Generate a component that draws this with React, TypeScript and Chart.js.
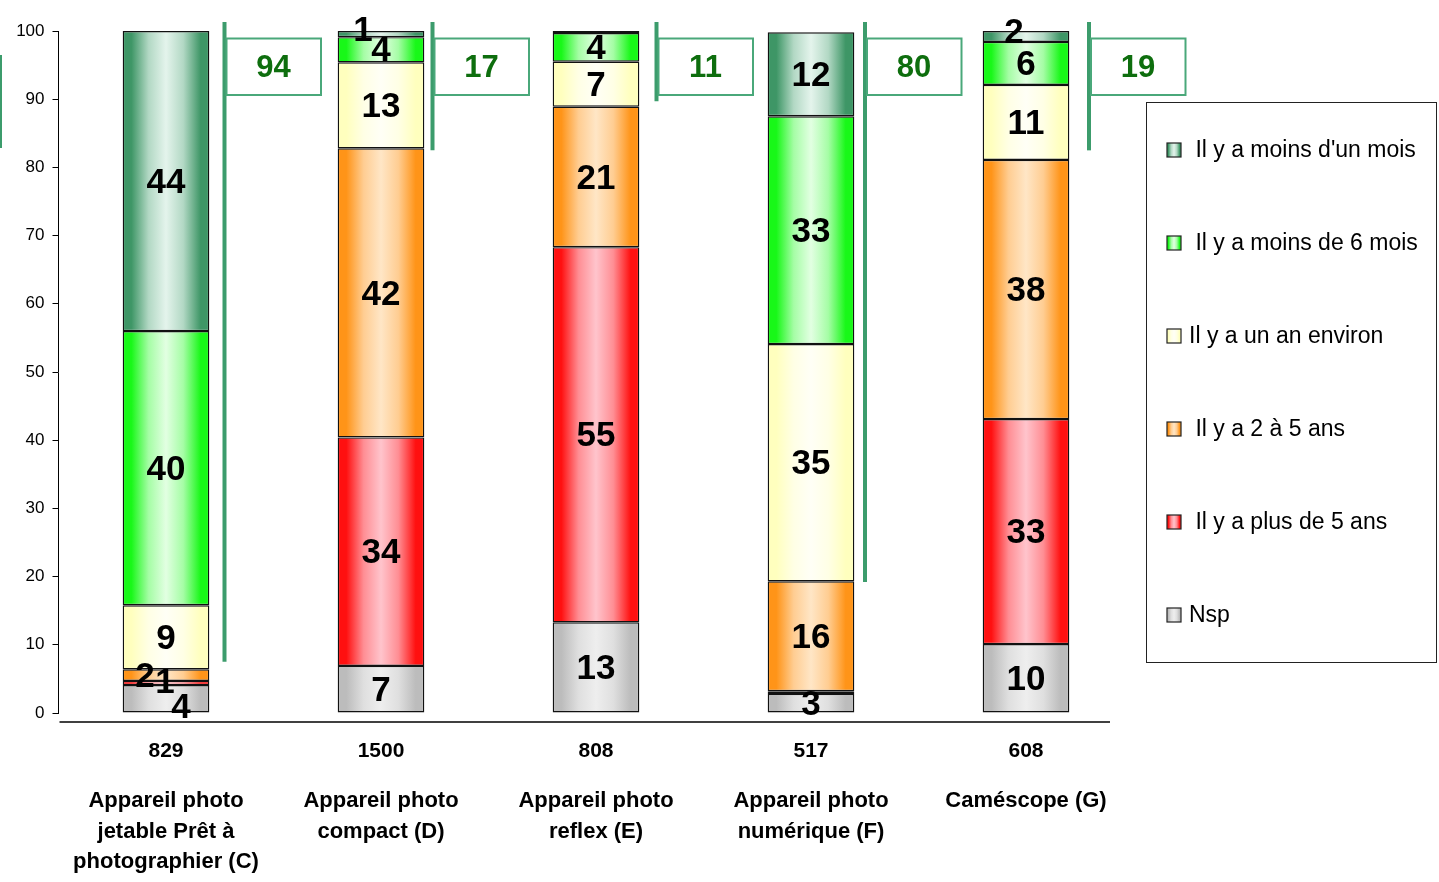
import React, { useEffect, useRef } from "react";
import { Chart, registerables } from "chart.js";

Chart.register(...registerables);

// ---------- DATA ----------
const categoryLines: string[][] = [
  ["Appareil photo", "jetable Prêt à", "photographier (C)"],
  ["Appareil photo", "compact (D)"],
  ["Appareil photo", "reflex (E)"],
  ["Appareil photo", "numérique (F)"],
  ["Caméscope (G)"],
];
const categories = categoryLines.map((l) => l.join(" "));
const baseCounts = ["829", "1500", "808", "517", "608"];

// series, bottom to top
const nsp = [4.1, 6.9, 13.3, 2.8, 10.1];
const plusDe5Ans = [0.6, 33.5, 55.0, 0.4, 33.0];
const deuxACinqAns = [1.7, 42.4, 20.6, 16.1, 38.0];
const unAnEnviron = [9.4, 12.6, 6.6, 34.8, 11.0];
const moinsDe6Mois = [40.2, 3.7, 4.2, 33.4, 6.3];
const moinsDunMois = [44.0, 0.9, 0.3, 12.3, 1.6];

const seriesNames = [
  "Nsp",
  "Il y a plus de 5 ans",
  "Il y a 2 à 5 ans",
  "Il y a un an environ",
  "Il y a moins de 6 mois",
  "Il y a moins d'un mois",
];
const legendLabels = [
  "Nsp",
  " Il y a plus de 5 ans",
  " Il y a 2 à 5 ans",
  "Il y a un an environ",
  " Il y a moins de 6 mois",
  " Il y a moins d'un mois",
];

// brackets (cumulated top categories)
const bracketTotals = [94, 17, 11, 80, 19];
const bracketFrom = [7.5, 82.5, 89.7, 19.2, 82.5];

// ---------- STYLE ----------
const FONT = "'Liberation Sans', Arial, sans-serif";
const BAR_PCT = 0.403;
const seriesColors: [string, string][] = [
  ["#bcbcbc", "#eeeeee"], // Nsp
  ["#ff1010", "#ffc4cc"], // plus de 5 ans
  ["#ff9418", "#ffe6c6"], // 2 à 5 ans
  ["#ffffbe", "#fffff6"], // un an
  ["#18f818", "#e2ffe2"], // 6 mois
  ["#3e9666", "#e4f4ec"], // moins d'un mois
];
const bracketDx = [58.5, 51.5, 60.5, 54, 63];
const labelOffsets: Record<string, [number, number]> = {
  "0-0": [15, 8],
  "1-0": [-1, -2],
  "2-0": [-21, 0],
  "5-1": [-18, -5],
  "5-4": [-12, -5],
};

function hexToRgb(h: string): number[] {
  const n = parseInt(h.slice(1), 16);
  return [(n >> 16) & 255, (n >> 8) & 255, n & 255];
}
function mix(a: string, b: string, t: number): string {
  const A = hexToRgb(a);
  const B = hexToRgb(b);
  const c = A.map((v, i) => Math.round(v + (B[i] - v) * t));
  return `rgb(${c[0]},${c[1]},${c[2]})`;
}

function makeGradient(ctx: CanvasRenderingContext2D, x0: number, x1: number, cols: [string, string]) {
  const g = ctx.createLinearGradient(x0, 0, x1, 0);
  const [edge, light] = cols;
  g.addColorStop(0, edge);
  g.addColorStop(0.1, edge);
  g.addColorStop(0.3, mix(edge, light, 0.7));
  g.addColorStop(0.5, light);
  g.addColorStop(0.7, mix(edge, light, 0.7));
  g.addColorStop(0.9, edge);
  g.addColorStop(1, edge);
  return g;
}

const series = [nsp, plusDe5Ans, deuxACinqAns, unAnEnviron, moinsDe6Mois, moinsDunMois];

const gradientPlugin = {
  id: "barGradients",
  beforeDatasetsDraw(chart: any) {
    const ctx: CanvasRenderingContext2D = chart.ctx;
    series.forEach((_, di) => {
      const meta = chart.getDatasetMeta(di);
      meta.data.forEach((el: any) => {
        const half = el.width / 2;
        const g = makeGradient(ctx, el.x - half, el.x + half, seriesColors[di]);
        el.options = Object.assign({}, el.options, { backgroundColor: g });
      });
    });
  },
};

const overlayPlugin = {
  id: "overlay",
  afterDraw(chart: any) {
    const ctx: CanvasRenderingContext2D = chart.ctx;
    const area = chart.chartArea;
    const xs = chart.scales.x;
    const ys = chart.scales.y;
    ctx.save();

    // data labels
    ctx.fillStyle = "#000";
    ctx.font = `bold 35px ${FONT}`;
    ctx.textAlign = "center";
    ctx.textBaseline = "middle";
    series.forEach((_, di) => {
      const meta = chart.getDatasetMeta(di);
      meta.data.forEach((el: any, i: number) => {
        const v = series[di][i];
        const r = Math.round(v);
        if (r < 1) return;
        const off = labelOffsets[`${di}-${i}`] || [0, 0];
        const y = (el.y + el.base) / 2;
        ctx.fillText(String(r), el.x + off[0], y + off[1] + 2);
      });
    });

    // x axis line
    ctx.strokeStyle = "#000";
    ctx.lineWidth = 1.5;
    ctx.beginPath();
    ctx.moveTo(area.left + 1, area.bottom + 9);
    ctx.lineTo(1110, area.bottom + 9);
    ctx.stroke();

    // category labels
    categories.forEach((_, i) => {
      const cx = xs.getPixelForValue(i);
      ctx.fillStyle = "#000";
      ctx.font = `bold 21px ${FONT}`;
      ctx.fillText(baseCounts[i], cx, area.bottom + 38);
      ctx.font = `bold 22px ${FONT}`;
      categoryLines[i].forEach((line, k) => {
        ctx.fillText(line, cx, area.bottom + 88 + k * 30.5);
      });
    });

    // brackets
    categories.forEach((_, i) => {
      const cx = xs.getPixelForValue(i) + bracketDx[i];
      const yTop = area.top - 9;
      const yBot = ys.getPixelForValue(bracketFrom[i]);
      ctx.strokeStyle = "#3c9c6c";
      ctx.lineWidth = 4;
      ctx.beginPath();
      ctx.moveTo(cx, yTop);
      ctx.lineTo(cx, yBot);
      ctx.stroke();
      ctx.strokeStyle = "#4aa87a";
      ctx.lineWidth = 2;
      ctx.strokeRect(cx + 2, area.top + 7.5, 94.5, 56.5);
      ctx.fillStyle = "#0e6e0e";
      ctx.font = `bold 31px ${FONT}`;
      ctx.fillText(String(bracketTotals[i]), cx + 49, area.top + 37);
    });

    // left fragment
    ctx.strokeStyle = "#3c9c6c";
    ctx.lineWidth = 3;
    ctx.beginPath();
    ctx.moveTo(0.5, 55);
    ctx.lineTo(0.5, 148);
    ctx.stroke();

    // legend
    ctx.strokeStyle = "#222";
    ctx.lineWidth = 1;
    ctx.strokeRect(1146.5, 102.5, 290, 560);
    ctx.textAlign = "left";
    ctx.font = `23px ${FONT}`;
    for (let k = 0; k < 6; k++) {
      const di = 5 - k;
      const yc = 150 + k * 93;
      ctx.fillStyle = makeGradient(ctx, 1167, 1181, seriesColors[di]);
      ctx.fillRect(1167, yc - 7, 14, 14);
      ctx.strokeStyle = "#222";
      ctx.lineWidth = 1.2;
      ctx.strokeRect(1167, yc - 7, 14, 14);
      ctx.fillStyle = "#000";
      ctx.fillText(legendLabels[di], 1189, yc + 1);
    }
    ctx.restore();
  },
};

export default function App() {
  const ref = useRef<HTMLCanvasElement | null>(null);
  useEffect(() => {
    if (!ref.current) return;
    document.body.style.margin = "0";
    const chart = new Chart(ref.current, {
      type: "bar",
      data: {
        labels: categories,
        datasets: series.map((data, di) => ({
          label: seriesNames[di],
          data,
          borderColor: "#111",
          borderWidth: 1.4,
          borderSkipped: false,
          backgroundColor: () => seriesColors[di][0],
        })),
      },
      options: {
        animation: false,
        responsive: false,
        devicePixelRatio: 1,
        layout: { padding: { top: 31, bottom: 169, left: 0, right: 305.5 } },
        datasets: { bar: { categoryPercentage: 1, barPercentage: BAR_PCT } },
        plugins: { legend: { display: false }, tooltip: { enabled: false } },
        scales: {
          x: { stacked: true, display: false },
          y: {
            stacked: true,
            min: 0,
            max: 100,
            afterFit: (s: any) => {
              s.width = 58.5;
            },
            ticks: { stepSize: 10, color: "#000", padding: 8, font: { family: FONT, size: 17 } },
            grid: { drawOnChartArea: false, drawTicks: true, tickLength: 6, color: "#000" },
            border: { display: true, color: "#000", width: 1 },
          },
        },
      },
      plugins: [gradientPlugin, overlayPlugin],
    });
    return () => chart.destroy();
  }, []);
  return (
    <div style={{ position: "absolute", left: 0, top: 0, width: 1439, height: 882, background: "#fff" }}>
      <canvas ref={ref} width={1439} height={882} />
    </div>
  );
}
